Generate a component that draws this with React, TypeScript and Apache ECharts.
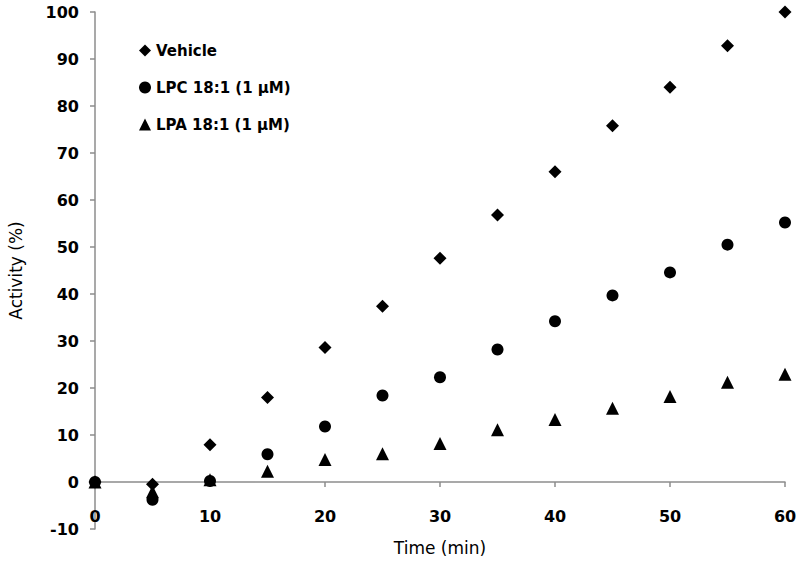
import React, { useEffect, useRef } from "react";
import * as echarts from "echarts";

const times = [0, 5, 10, 15, 20, 25, 30, 35, 40, 45, 50, 55, 60];
const vehicle = [0, -0.5, 7.9, 18.0, 28.6, 37.4, 47.6, 56.8, 66.0, 75.8, 84.0, 92.8, 100];
const lpc = [0, -3.8, 0.2, 5.9, 11.8, 18.4, 22.3, 28.2, 34.2, 39.7, 44.6, 50.5, 55.2];
const lpa = [0, -2.1, 0.5, 2.3, 4.8, 6.0, 8.2, 11.1, 13.3, 15.7, 18.2, 21.2, 22.9];
const seriesNames = ["Vehicle", "LPC 18:1 (1 \u00b5M)", "LPA 18:1 (1 \u00b5M)"];

const FONT = "DejaVu Sans";

export default function App() {
  const ref = useRef<HTMLDivElement>(null);
  useEffect(() => {
    if (!ref.current) return;
    const chart = echarts.init(ref.current, undefined, { renderer: "svg" });
    const pair = (arr: number[]) => times.map((t, i) => [t, arr[i]]);
    chart.setOption({
      animation: false,
      backgroundColor: "#fff",
      grid: { left: 95, right: 15, top: 12, bottom: 35, containLabel: false, outerBoundsMode: "none" },
      legend: {
        orient: "vertical",
        left: 134,
        top: 38,
        itemWidth: 12,
        itemHeight: 12,
        itemGap: 22,
        data: seriesNames,
        textStyle: { fontFamily: FONT, fontWeight: "bold", fontSize: 15, color: "#000" },
      },
      xAxis: {
        type: "value",
        min: 0,
        max: 60,
        interval: 10,
        name: "Time (min)",
        nameLocation: "middle",
        nameGap: 10,
        nameTextStyle: { fontFamily: FONT, fontSize: 17, color: "#000" },
        axisLine: { onZero: true, lineStyle: { color: "#8c8c8c", width: 1.5 } },
        axisTick: { show: true, length: 5, lineStyle: { color: "#8c8c8c", width: 1.5 } },
        axisLabel: { margin: -21, fontFamily: FONT, fontWeight: "bold", fontSize: 16, color: "#000" },
        splitLine: { show: false },
      },
      yAxis: {
        type: "value",
        min: -10,
        max: 100,
        interval: 10,
        name: "Activity (%)",
        nameLocation: "middle",
        nameGap: 71,
        nameTextStyle: { fontFamily: FONT, fontSize: 17, color: "#000" },
        axisLine: { show: true, onZero: false, lineStyle: { color: "#8c8c8c", width: 1.5 } },
        axisTick: { show: true, length: 5, lineStyle: { color: "#8c8c8c", width: 1.5 } },
        axisLabel: { margin: 16, fontFamily: FONT, fontWeight: "bold", fontSize: 16, color: "#000" },
        splitLine: { show: false },
      },
      series: [
        {
          name: seriesNames[0],
          type: "scatter",
          symbol: "diamond",
          symbolSize: 13,
          itemStyle: { color: "#000", opacity: 1 },
          data: pair(vehicle),
          z: 3,
        },
        {
          name: seriesNames[1],
          type: "scatter",
          symbol: "circle",
          symbolSize: 12,
          itemStyle: { color: "#000", opacity: 1 },
          data: pair(lpc),
          z: 4,
        },
        {
          name: seriesNames[2],
          type: "scatter",
          symbol: "triangle",
          symbolSize: 13,
          itemStyle: { color: "#000", opacity: 1 },
          data: pair(lpa),
          z: 5,
        },
      ],
    });
    return () => chart.dispose();
  }, []);
  return <div ref={ref} style={{ width: 800, height: 564, position: "fixed", left: 0, top: 0 }} />;
}
